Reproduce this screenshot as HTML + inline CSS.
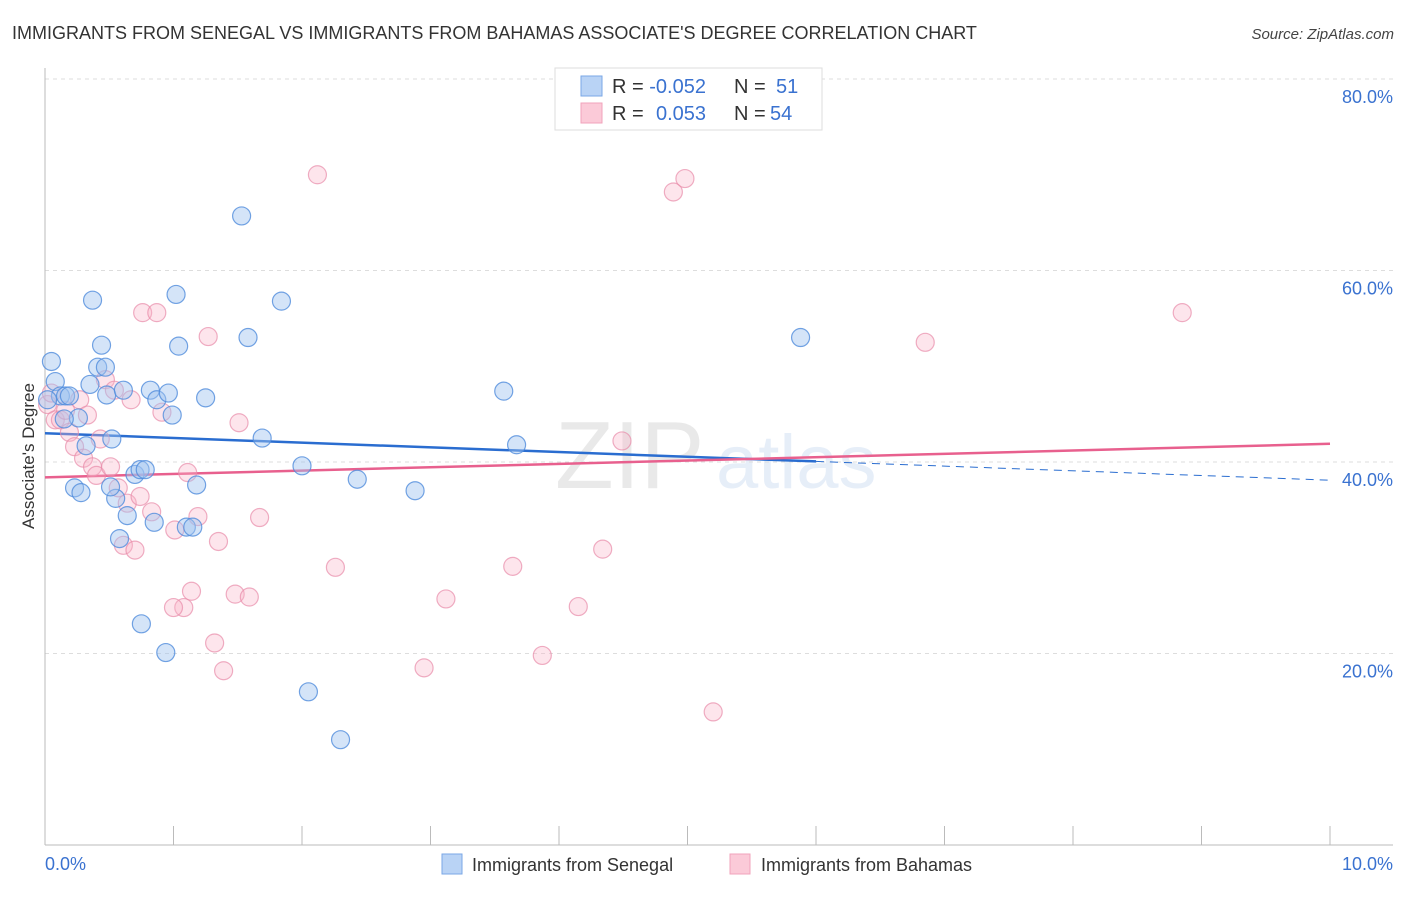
<!DOCTYPE html>
<html><head><meta charset="utf-8"><style>
body{margin:0;background:#fff;font-family:"Liberation Sans",sans-serif;}
svg text{font-family:"Liberation Sans",sans-serif;}
</style></head><body>
<svg id="chart" width="1406" height="892" viewBox="0 0 1406 892" xmlns="http://www.w3.org/2000/svg">
<text x="12" y="39" font-size="18" fill="#333">IMMIGRANTS FROM SENEGAL VS IMMIGRANTS FROM BAHAMAS ASSOCIATE'S DEGREE CORRELATION CHART</text>
<text x="1394" y="39" font-size="15" fill="#444" text-anchor="end" font-style="italic">Source: ZipAtlas.com</text>
<g opacity="0.18">
<text x="555" y="488" font-size="96" fill="#888" font-family="Liberation Serif">ZIP</text>
<text x="716" y="488" font-size="76" fill="#7aa3dd">atlas</text>
</g>
<g id="grid"></g>
<g id="axes"></g>
<g id="trends"></g>
<g id="pts"></g>
<text transform="translate(34,456) rotate(-90)" font-size="17" fill="#333" text-anchor="middle">Associate's Degree</text>
<g>
<rect x="555" y="68" width="267" height="62" fill="#fff" stroke="#ddd"/>
<rect x="581" y="76" width="21" height="20" fill="#b9d3f5" stroke="#7aa7e6"/>
<rect x="581" y="103" width="21" height="20" fill="#fbcad8" stroke="#f0a3bb"/>
<text x="612" y="93" font-size="20" fill="#333">R = <tspan fill="#3a72d0">-0.052</tspan><tspan x="734">N = </tspan><tspan x="776" fill="#3a72d0">51</tspan></text>
<text x="612" y="120" font-size="20" fill="#333">R = <tspan x="656" fill="#3a72d0">0.053</tspan><tspan x="734">N = </tspan><tspan x="770" fill="#3a72d0">54</tspan></text>
</g>
<g>
<rect x="442" y="854" width="20" height="20" fill="#b9d3f5" stroke="#7aa7e6"/>
<text x="472" y="871" font-size="18" fill="#333">Immigrants from Senegal</text>
<rect x="730" y="854" width="20" height="20" fill="#fbcad8" stroke="#f0a3bb"/>
<text x="761" y="871" font-size="18" fill="#333">Immigrants from Bahamas</text>
</g>
</svg>
<script>
const yTicks=[20,40,60,80];
const yTickLabels=["20.0%","40.0%","60.0%","80.0%"];
const xTickCount=10;
const xEndLabels=["0.0%","10.0%"];
const senegalX=[0.05,0.08,0.12,0.16,0.19,0.26,0.32,0.23,0.28,0.35,0.37,0.41,0.44,0.47,0.48,0.52,0.55,0.58,0.61,0.64,0.70,0.74,0.78,0.82,0.85,0.87,0.96,0.99,1.02,1.04,1.10,1.15,1.18,1.25,0.75,0.94,1.53,1.58,1.69,1.84,2.00,2.05,2.30,2.43,2.88,3.57,3.67,5.88,0.02,0.15,0.51];
const senegalY=[50.5,48.4,46.9,46.9,46.9,44.6,41.7,37.3,36.8,48.1,56.9,49.9,52.2,49.9,47.0,42.4,36.2,32.0,47.5,34.4,38.7,39.2,39.2,47.5,33.7,46.5,47.2,44.9,57.5,52.1,33.2,33.2,37.6,46.7,23.1,20.1,65.7,53.0,42.5,56.8,39.6,16.0,11.0,38.2,37.0,47.4,41.8,53.0,46.5,44.5,37.4];
const bahamasX=[0.02,0.05,0.08,0.12,0.16,0.19,0.23,0.27,0.30,0.33,0.37,0.40,0.43,0.47,0.51,0.54,0.57,0.61,0.64,0.67,0.70,0.74,0.76,0.83,0.87,0.91,1.01,1.08,1.11,1.14,1.19,1.27,1.32,1.35,1.39,1.48,1.51,1.59,1.67,2.12,2.26,2.95,3.12,3.64,3.87,4.15,4.34,4.49,4.89,4.98,5.20,6.85,8.85,1.00];
const bahamasY=[46.0,47.2,44.4,44.4,45.4,43.1,41.6,46.5,40.4,44.9,39.5,38.6,42.4,48.6,39.5,47.5,37.3,31.3,35.7,46.5,30.8,36.4,55.6,34.8,55.6,45.2,32.9,24.8,38.9,26.5,34.3,53.1,21.1,31.7,18.2,26.2,44.1,25.9,34.2,70.0,29.0,18.5,25.7,29.1,19.8,24.9,30.9,42.2,68.2,69.6,13.9,52.5,55.6,24.8];
const senegalTrend=[43.0,38.1];
const bahamasTrend=[38.4,41.9];
const senegalSolidEnd=6.0;

const NS="http://www.w3.org/2000/svg";
const X0=45,X1=1330,Y0=845,PXPER=9.575;
const sx=v=>X0+(X1-X0)*v/10;
const sy=v=>Y0-v*PXPER;
function mk(tag,attrs,parent){const e=document.createElementNS(NS,tag);for(const k in attrs)e.setAttribute(k,attrs[k]);parent.appendChild(e);return e;}
const grid=document.getElementById('grid'),axes=document.getElementById('axes'),trends=document.getElementById('trends'),pts=document.getElementById('pts');
yTicks.forEach((t,i)=>{
 const l=mk('line',{x1:45,x2:1393,y1:sy(t),y2:sy(t),stroke:'#ddd','stroke-dasharray':'4,4'},grid);
 
 
 const tx=mk('text',{x:1393,y:sy(t)+24,'font-size':18,fill:'#3a72d0','text-anchor':'end'},axes);
 tx.textContent=yTickLabels[i];
 
 
});
mk('line',{x1:45,x2:45,y1:68,y2:845,stroke:'#bbb'},axes);
mk('line',{x1:45,x2:1393,y1:845,y2:845,stroke:'#bbb'},axes);
for(let i=0;i<=xTickCount;i++){
 const t=mk('line',{x1:sx(i),x2:sx(i),y1:826,y2:845,stroke:'#bbb'},axes);
 
 
}
const xl0=mk('text',{x:45,y:870,'font-size':18,fill:'#3a72d0'},axes);xl0.textContent=xEndLabels[0];


const xl1=mk('text',{x:1393,y:870,'font-size':18,fill:'#3a72d0','text-anchor':'end'},axes);xl1.textContent=xEndLabels[1];


function dot(x,y,fill,stroke,name){
 const c=mk('circle',{cx:sx(x),cy:sy(y),r:9,fill:fill,stroke:stroke,'stroke-width':1.2},pts);
 
 
}
bahamasX.forEach((x,i)=>dot(x,bahamasY[i],'rgba(248,180,200,0.35)','rgba(232,140,170,0.7)','bahamas-point'));
senegalX.forEach((x,i)=>dot(x,senegalY[i],'rgba(160,196,240,0.45)','rgba(80,140,220,0.8)','senegal-point'));
const sAt=v=>senegalTrend[0]+(senegalTrend[1]-senegalTrend[0])*v/10;
const s1=mk('line',{x1:sx(0),y1:sy(sAt(0)),x2:sx(senegalSolidEnd),y2:sy(sAt(senegalSolidEnd)),stroke:'#2a6dd0','stroke-width':2.5},trends);


const s2=mk('line',{x1:sx(senegalSolidEnd),y1:sy(sAt(senegalSolidEnd)),x2:sx(10),y2:sy(sAt(10)),stroke:'#2a6dd0','stroke-width':1,'stroke-dasharray':'8,6'},trends);


const b1=mk('line',{x1:sx(0),y1:sy(bahamasTrend[0]),x2:sx(10),y2:sy(bahamasTrend[1]),stroke:'#e8608e','stroke-width':2.5},trends);


</script>
</body></html>
